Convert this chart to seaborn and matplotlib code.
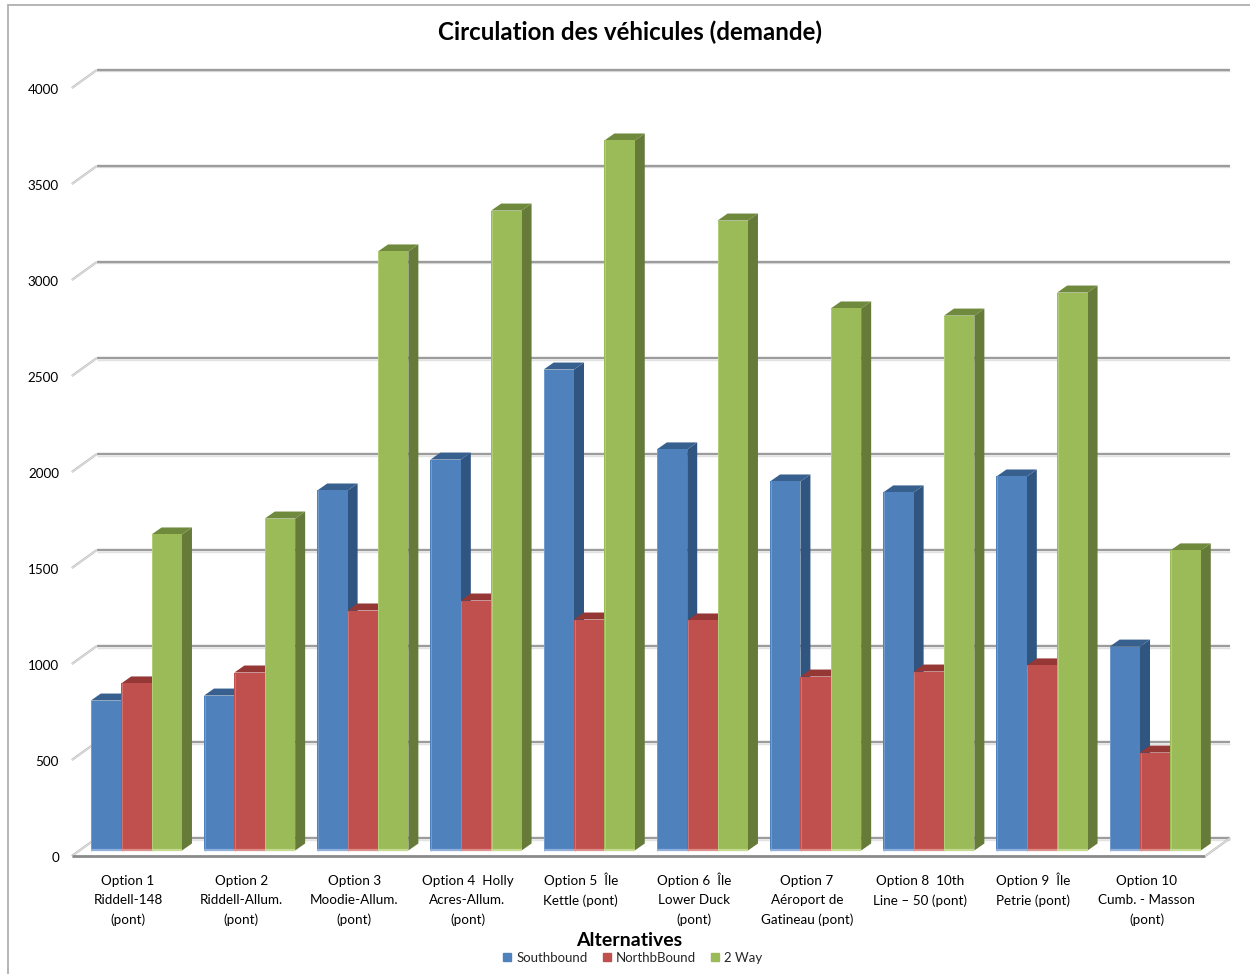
#!/usr/bin/env python

import pandas as pd
import seaborn as sns
import matplotlib.pyplot as plt
from matplotlib.lines import Line2D
from matplotlib.patches import Polygon
from matplotlib.transforms import ScaledTranslation, IdentityTransform

labels = ["Option 1\nRiddell-148\n(pont)", "Option 2\nRiddell-Allum.\n(pont)",
          "Option 3\nMoodie-Allum.\n(pont)", "Option 4  Holly\nAcres-Allum.\n(pont)",
          "Option 5  Île\nKettle (pont)", "Option 6  Île\nLower Duck\n(pont)",
          "Option 7\nAéroport de\nGatineau (pont)", "Option 8  10th\nLine – 50 (pont)",
          "Option 9  Île\nPetrie (pont)", "Option 10\nCumb. - Masson\n(pont)"]
southbound = [781, 807, 1875, 2036, 2505, 2089, 1922, 1865, 1948, 1062]
northbound = [870, 927, 1250, 1302, 1203, 1198, 906, 932, 964, 510]
two_way = [1646, 1729, 3120, 3333, 3698, 3281, 2823, 2786, 2906, 1563]
series = ["Southbound", "NorthbBound", "2 Way"]
front_colors = ["#4F81BD", "#C0504D", "#9BBB59"]
side_colors = ["#2F5580", "#8A3A38", "#667A3A"]
top_colors = ["#38608F", "#953735", "#6F8A3C"]
edge_colors = ["#8FB0DC", "#DE8F8C", "#C3DA90"]
yticks = [0, 500, 1000, 1500, 2000, 2500, 3000, 3500, 4000]

W, H = 1250, 974
DEPTH = (10, 7)        # bar depth, px
FRONT = (-8, -5.5)     # front floor plane relative to the bars
BACK = (17, 12.5)      # back wall relative to the bars
GRID = "#9c9c9c"

df = pd.DataFrame({"label": labels, series[0]: southbound, series[1]: northbound, series[2]: two_way})
df = df.melt(id_vars="label", var_name="series", value_name="value")

sns.set_theme(style="white")
plt.rcParams["font.family"] = ["Lato", "DejaVu Sans"]

fig = plt.figure(figsize=(W / 100, H / 100), dpi=100)
ax = fig.add_axes([79.8 / W, (H - 850.5) / H, 1132 / W, 768 / H])
sns.barplot(df, x="label", y="value", hue="series", hue_order=series,
            palette=dict(zip(series, front_colors)), width=0.805, gap=0,
            saturation=1, linewidth=0, ax=ax, legend=False)
ax.set_xlim(-0.5, 9.5)
ax.set_ylim(0, 4000)
ax.set_yticks(yticks)
for side in ax.spines.values():
    side.set_visible(False)
ax.tick_params(length=0, labelcolor="black")
ax.set_xticks(range(len(labels)))
ax.set_xticklabels(labels, fontsize=9.7, linespacing=1.7)
ax.set_yticklabels([str(t) for t in yticks], fontsize=9.7)
ax.tick_params(axis="x", pad=17.5)
ax.tick_params(axis="y", pad=15)
ax.set_xlabel("")
ax.set_ylabel("")

dots = fig.dpi_scale_trans
px = 1 / 100
for t in ax.get_xticklabels():
    # the capital with accent pushes its block down, pull it back up to the same row
    lift = 2 if "Î" in t.get_text() else 0
    t.set_transform(t.get_transform() + ScaledTranslation((FRONT[0] - 0.5) * px, lift * px, dots))
for t in ax.get_yticklabels():
    t.set_transform(t.get_transform() + ScaledTranslation(0, (FRONT[1] - 1) * px, dots))

to_px = ax.transData.transform
x0, x1 = ax.get_xlim()
pix = IdentityTransform()


def line(xs, ys, color, lw, z=1):
    ax.add_line(Line2D(xs, ys, color=color, lw=lw, transform=pix, zorder=z, clip_on=False,
                       solid_capstyle="butt"))


# walls: gridlines, their diagonals, floor
for v in yticks:
    (lx, ly), (rx, _) = to_px((x0, v)), to_px((x1, v))
    rx += 1.5
    fx, fy = lx + FRONT[0], ly + FRONT[1]
    bx, by = lx + BACK[0], ly + BACK[1]
    brx = rx + BACK[0]
    line([bx, brx], [by - 1.5, by - 1.5], "#e2e2e2", 1.0)
    line([bx, brx], [by, by], GRID, 1.7)
    line([fx, bx], [fy, by], "#bdbdbd", 1.6)
    line([fx, bx], [fy, by], "#eeeeee", 0.5)
    if v == 0:
        line([fx, rx + FRONT[0]], [fy, fy], "#8a8a8a", 2.0)
        line([rx + FRONT[0], brx], [fy, by], "#bdbdbd", 1.6)
        line([rx + FRONT[0], brx], [fy, by], "#eeeeee", 0.5)

# bars: seaborn draws the front faces, depth goes on top of them
n = len(labels)
for i, bar in enumerate(ax.patches[:3 * n]):
    s = i // n
    bar.set_zorder(3 + s)
    x, w, h = bar.get_x(), bar.get_width(), bar.get_height()
    (ax_, ay), (bx_, by_) = to_px((x, 0)), to_px((x + w, h))
    dx, dy = DEPTH
    ax.add_patch(Polygon([(bx_, ay), (bx_ + dx, ay + dy), (bx_ + dx, by_ + dy), (bx_, by_)],
                         closed=True, fc=side_colors[s], ec="none", transform=pix,
                         zorder=2.8 + s, clip_on=False))
    ax.add_patch(Polygon([(ax_, by_), (ax_ + dx, by_ + dy), (bx_ + dx, by_ + dy), (bx_, by_)],
                         closed=True, fc=top_colors[s], ec="none", transform=pix,
                         zorder=2.9 + s, clip_on=False))
    line([ax_, bx_], [ay + 0.8, ay + 0.8], edge_colors[s], 1.6, z=3.2 + s)
    line([ax_ + 0.5, ax_ + 0.5], [ay, by_], edge_colors[s], 0.4, z=3.2 + s)

fig.text(629.5 / W, 1 - 32 / H, "Circulation des véhicules (demande)", fontsize=17.4, fontweight="bold",
         ha="center", va="center", color="black")
fig.text(629.5 / W, 1 - 940 / H, "Alternatives", fontsize=14, fontweight="bold", ha="center", va="center",
         color="black")

handles = [Line2D([], [], marker="s", ls="", ms=6.2, color=c) for c in front_colors]
fig.legend(handles, series, ncol=3, loc="center", bbox_to_anchor=(632.5 / W, 1 - 958 / H), frameon=False,
           fontsize=9.5, handlelength=0.7, handletextpad=0.35, columnspacing=1.1, borderpad=0, labelspacing=0)

# chart frame
for xs, ys in [((8, 8), (5, 974)), ((8, 1250), (5, 5))]:
    fig.add_artist(Line2D([a / W for a in xs], [1 - b / H for b in ys], color="#b0b0b0", lw=1.3))

fig.savefig("out.png", dpi=100)
